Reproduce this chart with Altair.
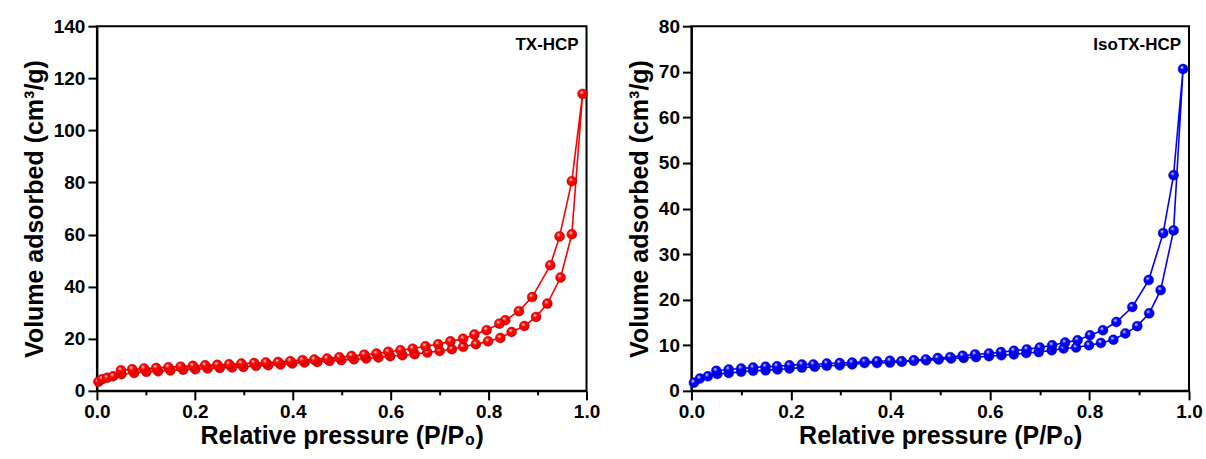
import altair as alt
import pandas as pd

FONT = "Liberation Sans"

# TX-HCP (red)
tx_ads_x = [0.003, 0.011, 0.021, 0.033, 0.050, 0.076, 0.101, 0.125, 0.150, 0.176,
            0.201, 0.226, 0.251, 0.276, 0.299, 0.325, 0.350, 0.375, 0.399, 0.424,
            0.450, 0.475, 0.499, 0.525, 0.550, 0.575, 0.599, 0.624, 0.649, 0.675,
            0.700, 0.725, 0.748, 0.774, 0.799, 0.824, 0.847, 0.873, 0.897, 0.920,
            0.947, 0.970, 0.992]
tx_ads_y = [3.5, 4.5, 5.0, 5.6, 6.4, 6.9, 7.3, 7.5, 7.8, 8.1,
            8.3, 8.6, 8.8, 9.0, 9.2, 9.6, 9.8, 10.1, 10.5, 10.9,
            11.1, 11.5, 11.8, 12.1, 12.4, 12.8, 13.3, 13.7, 14.1, 14.7,
            15.3, 16.0, 16.9, 17.9, 19.0, 20.3, 22.6, 24.9, 28.4, 33.5,
            43.5, 60.1, 114.0]
tx_des_x = [0.970, 0.945, 0.926, 0.889, 0.862, 0.834, 0.822, 0.796, 0.771,
            0.748, 0.722, 0.697, 0.671, 0.645, 0.620, 0.595, 0.571, 0.546, 0.520,
            0.495, 0.470, 0.444, 0.420, 0.395, 0.370, 0.345, 0.321, 0.295, 0.270,
            0.246, 0.221, 0.196, 0.171, 0.146, 0.121, 0.096, 0.072, 0.049]
tx_des_y = [80.5, 59.3, 48.2, 36.0, 30.6, 27.1, 25.8, 23.3, 21.6,
            20.0, 19.0, 17.9, 17.1, 16.2, 15.6, 15.0, 14.3, 13.9, 13.4,
            12.9, 12.4, 12.0, 11.8, 11.4, 11.1, 10.9, 10.7, 10.5, 10.2,
            10.0, 9.8, 9.6, 9.3, 9.1, 8.8, 8.6, 8.3, 7.9]

# IsoTX-HCP (blue)
iso_ads_x = [0.005, 0.017, 0.033, 0.052, 0.075, 0.100, 0.124, 0.149, 0.173, 0.197,
             0.222, 0.248, 0.272, 0.298, 0.323, 0.348, 0.373, 0.399, 0.423, 0.447,
             0.472, 0.497, 0.522, 0.547, 0.572, 0.598, 0.623, 0.648, 0.673, 0.698,
             0.724, 0.748, 0.773, 0.799, 0.823, 0.848, 0.872, 0.896, 0.920, 0.943,
             0.969, 0.988]
iso_ads_y = [1.8, 2.7, 3.2, 3.7, 3.9, 4.2, 4.4, 4.5, 4.7, 4.9,
             5.1, 5.3, 5.5, 5.6, 5.8, 6.1, 6.1, 6.2, 6.4, 6.6,
             6.7, 6.9, 7.1, 7.2, 7.4, 7.6, 7.8, 8.0, 8.3, 8.5,
             8.9, 9.3, 9.5, 10.0, 10.5, 11.2, 12.6, 14.2, 17.0, 22.1,
             35.2, 70.6]
iso_des_x = [0.969, 0.948, 0.919, 0.886, 0.854, 0.827, 0.801, 0.776, 0.751, 0.725,
             0.700, 0.674, 0.648, 0.622, 0.598, 0.570, 0.545, 0.520, 0.495, 0.471,
             0.447, 0.422, 0.399, 0.373, 0.348, 0.323, 0.298, 0.272, 0.245, 0.222,
             0.197, 0.172, 0.149, 0.124, 0.100, 0.075, 0.050]
iso_des_y = [47.3, 34.6, 24.3, 18.4, 15.1, 13.3, 12.2, 11.1, 10.6, 10.0,
             9.5, 9.1, 8.8, 8.5, 8.2, 8.0, 7.7, 7.4, 7.2, 6.9,
             6.7, 6.5, 6.6, 6.5, 6.4, 6.2, 6.1, 6.0, 5.8, 5.8,
             5.6, 5.4, 5.3, 5.1, 4.9, 4.7, 4.4]

x_ticks = [0.0, 0.1, 0.2, 0.3, 0.4, 0.5, 0.6, 0.7, 0.8, 0.9, 1.0]
tx_y_ticks = [0, 10, 20, 30, 40, 50, 60, 70, 80, 90, 100, 110, 120, 130, 140]
iso_y_ticks = [0, 5, 10, 15, 20, 25, 30, 35, 40, 45, 50, 55, 60, 65, 70, 75, 80]


def panel(ax, ay, dx, dy, color, dark, ymax, yticks, ymajor, label, lx, ly, width):
    xs = ax + dx
    df = pd.DataFrame({"p": xs, "v": ay + dy, "i": list(range(len(xs)))})
    xaxis = alt.Axis(
        values=x_ticks,
        labelExpr="abs(datum.value*5 - round(datum.value*5)) < 0.001 ? format(datum.value, '.1f') : ''",
        tickSize={"expr": "abs(datum.value*5 - round(datum.value*5)) < 0.001 ? 9 : 4"},
        labelFlush=False,
        labelOverlap=False,
        title="Relative pressure (P/P\u2080)",
        titlePadding=2,
    )
    yaxis = alt.Axis(
        values=yticks,
        labelExpr=f"datum.value % {ymajor} == 0 ? format(datum.value, 'd') : ''",
        tickSize={"expr": f"datum.value % {ymajor} == 0 ? 9 : 4"},
        labelFlush=False,
        labelOverlap=False,
        title="Volume adsorbed (cm\u00b3/g)",
        titlePadding=6,
    )
    x = alt.X("p:Q", scale=alt.Scale(domain=[0, 1], nice=False, zero=False), axis=xaxis)
    y = alt.Y("v:Q", scale=alt.Scale(domain=[0, ymax], nice=False), axis=yaxis)
    grad = alt.RadialGradient(
        gradient="radial",
        x1=0.38, y1=0.32, r1=0.0,
        x2=0.45, y2=0.45, r2=0.6,
        stops=[
            alt.GradientStop(color="#ffffff", offset=0.0),
            alt.GradientStop(color=color, offset=0.35),
            alt.GradientStop(color=color, offset=0.75),
            alt.GradientStop(color=dark, offset=1.0),
        ],
    )
    line = alt.Chart(df).mark_line(color=color, strokeWidth=1.6).encode(
        x=x, y=y, order="i:Q")
    pts = alt.Chart(df).mark_point(
        filled=True, shape="circle", size=100, fill=grad, opacity=1,
        stroke=dark, strokeWidth=0.4).encode(x=x, y=y)
    lab = alt.Chart(pd.DataFrame({"p": [lx], "v": [ly], "t": [label]})).mark_text(
        align="right", baseline="middle", font=FONT, fontWeight="bold",
        fontSize=17, color="black").encode(x="p:Q", y="v:Q", text="t:N")
    return alt.layer(line, pts, lab).properties(width=width, height=365)


left = panel(tx_ads_x, tx_ads_y, tx_des_x, tx_des_y, "#ff0000", "#a00000",
             140, tx_y_ticks, 20, "TX-HCP", 0.984, 132.7, 490)
right = panel(iso_ads_x, iso_ads_y, iso_des_x, iso_des_y, "#0000ff", "#00009a",
              80, iso_y_ticks, 10, "IsoTX-HCP", 0.984, 75.8, 498)

chart = alt.hconcat(left, right, spacing=24).properties(
    padding={"left": 21, "top": 16, "right": 2, "bottom": 2},
    background="white",
).configure_view(
    stroke="black", strokeWidth=2
).configure_axis(
    grid=False,
    domainColor="black", domainWidth=2,
    tickColor="black", tickWidth=2,
    labelFont=FONT, labelFontSize=19, labelFontWeight="bold", labelColor="black",
    labelPadding=3,
    titleFont=FONT, titleFontSize=25, titleFontWeight="bold", titleColor="black",
)

chart.save("out.html", embed_options={"renderer": "svg", "actions": False})
